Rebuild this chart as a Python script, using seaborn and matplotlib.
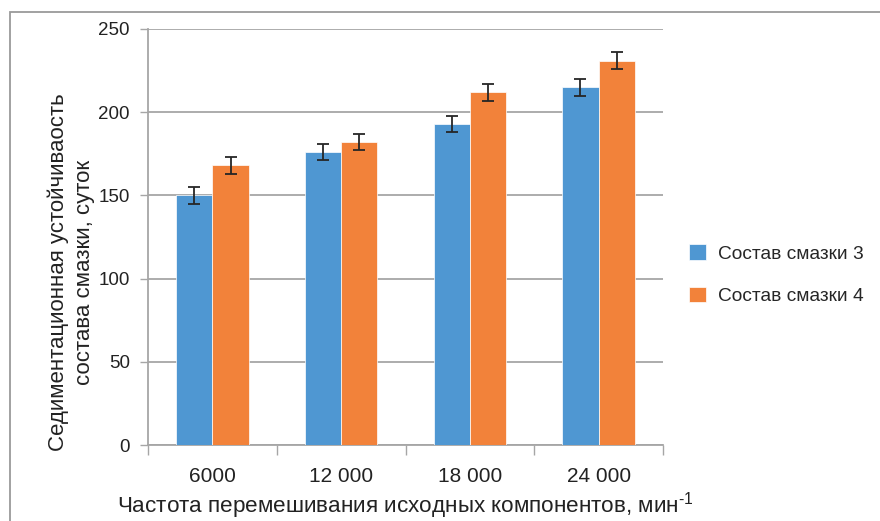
import matplotlib
matplotlib.use("Agg")
import matplotlib.pyplot as plt
from matplotlib.patches import Rectangle
import seaborn as sns
import pandas as pd

categories = ["6000", "12 000", "18 000", "24 000"]
series_names = ["Состав смазки 3", "Состав смазки 4"]
values_s3 = [150, 176, 193, 215]
values_s4 = [168, 182, 212, 231]
errors_s3 = [5, 5, 5, 5]
errors_s4 = [5, 5, 5, 5]
y_ticks = [0, 50, 100, 150, 200, 250]
colors = ["#4F97D2", "#F2823A"]

df = pd.DataFrame({
    "cat": categories * 2,
    "val": values_s3 + values_s4,
    "series": [series_names[0]] * 4 + [series_names[1]] * 4,
})
errs = errors_s3 + errors_s4

sns.set_theme(style="white")
plt.rcParams["font.family"] = ["Liberation Sans", "DejaVu Sans"]
plt.rcParams["mathtext.fontset"] = "custom"
plt.rcParams["mathtext.rm"] = "Liberation Sans"

fig = plt.figure(figsize=(8.8, 5.21), dpi=100)
ax = fig.add_axes([148 / 880, 1 - 445 / 521, (663 - 148) / 880, (445 - 29) / 521])

sns.barplot(data=df, x="cat", y="val", hue="series", order=categories,
            hue_order=series_names, palette=colors, saturation=1,
            width=0.565, gap=0, errorbar=None, edgecolor="white",
            linewidth=0.5, ax=ax, zorder=3)

# error bars placed on the drawn bars
bars = [p for p in ax.patches if p.get_height() > 0]
bars = sorted(bars, key=lambda p: p.get_x())
order = []
for s_i, s in enumerate(series_names):
    for c_i, c in enumerate(categories):
        order.append((c_i, s_i))
order_sorted = sorted(range(len(order)), key=lambda k: (order[k][0], order[k][1]))
for p, k in zip(bars, order_sorted):
    ax.errorbar(p.get_x() + p.get_width() / 2, p.get_height(), yerr=errs[k],
                fmt="none", ecolor="#262626", elinewidth=1.3, capsize=4.5,
                capthick=1.3, zorder=4)

ax.set_ylim(0, 250)
ax.set_xlim(-0.5, 3.5)
ax.set_yticks(y_ticks)
ax.set_yticklabels([str(t) for t in y_ticks], fontsize=13.5, color="#222222")
ax.yaxis.grid(True, color="#A6A6A6", linewidth=1.3, zorder=0)
ax.set_axisbelow(True)

ax.set_xticks(range(len(categories)))
ax.set_xticklabels(categories, fontsize=15, color="#222222")
ax.tick_params(axis="x", which="major", length=0, pad=16)
ax.set_xticks([-0.5, 0.5, 1.5, 2.5, 3.5], minor=True)
ax.tick_params(axis="x", which="minor", length=7, width=1, color="#A6A6A6",
               direction="out", bottom=True)
ax.tick_params(axis="y", length=6, width=1, color="#A6A6A6", direction="out",
               left=True, pad=7)

for s in ["top", "right"]:
    ax.spines[s].set_visible(False)
for s in ["left", "bottom"]:
    ax.spines[s].set_color("#A6A6A6")
    ax.spines[s].set_linewidth(1.3)

ax.set_xlabel("Частота перемешивания исходных компонентов, мин$^{\\mathregular{\u20101}}$",
              fontsize=16.2, color="#222222", labelpad=3)
ax.set_ylabel("")
fig.text(71 / 880, 1 - 272 / 521,
         "Седиментационная устойчиваость\nсостава смазки, суток",
         rotation=90, ha="center", va="center", fontsize=16,
         color="#222222", linespacing=1.3)

handles, labels = ax.get_legend_handles_labels()
if ax.get_legend() is not None:
    ax.get_legend().remove()
fig.legend(handles, labels, loc="upper left",
           bbox_to_anchor=(689 / 880, 1 - 244 / 521), frameon=False,
           fontsize=13.8, handlelength=0.9, handleheight=0.9,
           handletextpad=0.6, labelspacing=1.25, borderpad=0,
           borderaxespad=0)

fig.patches.append(Rectangle((10 / 880, -0.2), 1.2, 1.2 - 12 / 521,
                             transform=fig.transFigure, fill=False,
                             edgecolor="#9A9A9A", linewidth=1.3))

fig.savefig("out.png", dpi=100)
